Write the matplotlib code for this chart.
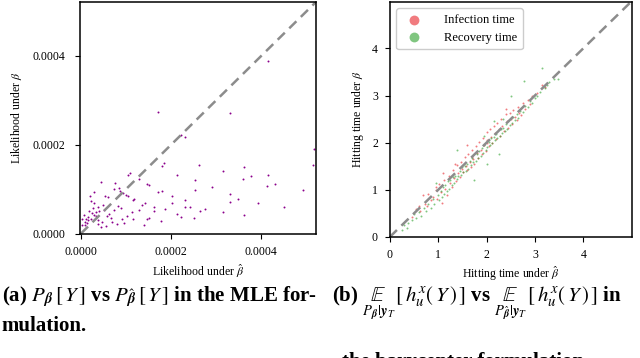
import numpy as np
import matplotlib
matplotlib.use("Agg")
import matplotlib.pyplot as plt

plt.rcParams['font.family'] = ['Liberation Serif', 'DejaVu Serif']
plt.rcParams['mathtext.fontset'] = 'stix'

# --- data: (a) likelihood under beta-hat vs beta ---
lik_hat = [0.000415, 0.000170, 0.000331, 0.000518, 0.000514, 0.000232, 0.000221, 0.000184,
           0.000179, 0.000263, 0.000315, 0.000362, 0.000415, 0.000377, 0.000360, 0.000431,
           0.000414, 0.000492, 0.000451, 0.000394, 0.000362, 0.000348, 0.000331, 0.000331,
           0.000315, 0.000290, 0.000276, 0.000265, 0.000253, 0.000253, 0.000252, 0.000241,
           0.000232, 0.000232, 0.000222, 0.000213, 0.000213, 0.000202, 0.000202, 0.000187,
           0.000179, 0.000172, 0.000178, 0.000163, 0.000163, 0.000151, 0.000147, 0.000150,
           0.000142, 0.000136, 0.000140, 0.000146, 0.000128, 0.000130, 0.000115, 0.000118,
           0.000108, 0.000105, 0.000113, 0.000102, 0.000115, 0.000100, 0.000104, 0.000093,
           0.000085, 0.000076, 0.000074, 0.000073, 0.000082, 0.000088, 0.000091, 0.000096,
           0.000079, 0.000068, 0.000059, 0.000060, 0.000048, 0.000053, 0.000045, 0.000046,
           0.000056, 0.000044, 0.000037, 0.000037, 0.000030, 0.000029, 0.000027, 0.000020,
           0.000022, 0.000025, 0.000023, 0.000018, 0.000016, 0.000012, 0.000013, 0.000006,
           0.000003, 0.000002, 0.000010, 0.000034, 0.000033, 0.000041, 0.000051, 0.000062,
           0.000008, 0.000015, 0.000028, 0.000039, 0.000066, 0.000086]
lik_true = [0.000389, 0.000273, 0.000272, 0.000190, 0.000154, 0.000218, 0.000221, 0.000160,
            0.000153, 0.000154, 0.000141, 0.000151, 0.000132, 0.000129, 0.000124, 0.000111,
            0.000108, 0.000098, 0.000060, 0.000070, 0.000042, 0.000079, 0.000089, 0.000072,
            0.000049, 0.000106, 0.000055, 0.000052, 0.000121, 0.000099, 0.000035, 0.000061,
            0.000075, 0.000061, 0.000038, 0.000133, 0.000044, 0.000085, 0.000070, 0.000055,
            0.000095, 0.000093, 0.000028, 0.000061, 0.000050, 0.000036, 0.000112, 0.000109,
            0.000068, 0.000065, 0.000019, 0.000032, 0.000053, 0.000124, 0.000075, 0.000078,
            0.000136, 0.000131, 0.000048, 0.000039, 0.000033, 0.000088, 0.000085, 0.000091,
            0.000103, 0.000113, 0.000101, 0.000054, 0.000062, 0.000058, 0.000033, 0.000023,
            0.000021, 0.000025, 0.000039, 0.000082, 0.000065, 0.000084, 0.000116, 0.000027,
            0.000017, 0.000015, 0.000031, 0.000021, 0.000094, 0.000068, 0.000058, 0.000084,
            0.000073, 0.000046, 0.000033, 0.000050, 0.000038, 0.000034, 0.000024, 0.000042,
            0.000032, 0.000019, 0.000019, 0.000048, 0.000040, 0.000050, 0.000054, 0.000045,
            0.000027, 0.000030, 0.000043, 0.000060, 0.000036, 0.000097]

# --- data: (b) hitting times ---
inf_hat = [0.45, 0.55, 0.62, 0.68, 0.72, 0.78, 0.80, 0.85, 0.90, 0.95, 0.98, 1.02, 1.05, 1.08,
           1.12, 1.15, 1.18, 1.22, 1.25, 1.28, 1.30, 1.33, 1.36, 1.40, 1.42, 1.45, 1.48, 1.50,
           1.52, 1.55, 1.58, 1.60, 1.62, 1.65, 1.68, 1.70, 1.72, 1.75, 1.78, 1.80, 1.82, 1.85,
           1.88, 1.90, 1.92, 1.95, 1.98, 2.00, 2.02, 2.05, 2.08, 2.10, 2.12, 2.15, 2.18, 2.20,
           2.22, 2.25, 2.28, 2.30, 2.33, 2.36, 2.40, 2.42, 2.45, 2.48, 2.50, 2.53, 2.55, 2.58,
           2.62, 2.65, 2.68, 2.72, 2.75, 2.80, 2.85, 2.90, 2.95, 3.05, 3.15, 3.20, 1.10, 1.60,
           1.35, 0.95, 2.40, 2.00, 1.70, 0.60]
inf_true = [0.42, 0.60, 0.55, 0.88, 0.70, 0.65, 0.92, 0.78, 0.85, 1.05, 0.80, 1.12, 0.95, 0.72,
            1.20, 1.02, 0.90, 1.30, 1.15, 1.05, 1.42, 1.25, 1.18, 1.52, 1.35, 1.28, 1.60, 1.45,
            1.38, 1.70, 1.50, 1.42, 1.75, 1.58, 1.48, 1.85, 1.65, 1.55, 1.92, 1.78, 1.68, 2.02,
            1.85, 1.75, 2.10, 1.95, 1.82, 2.22, 2.05, 1.92, 2.30, 2.12, 2.00, 2.35, 2.20, 2.08,
            2.42, 2.28, 2.15, 2.50, 2.35, 2.25, 2.60, 2.45, 2.32, 2.62, 2.50, 2.40, 2.70, 2.55,
            2.48, 2.75, 2.62, 2.58, 2.85, 2.72, 2.90, 2.82, 3.00, 3.05, 3.22, 3.18, 1.35, 1.95,
            1.55, 1.00, 2.72, 2.00, 1.70, 0.65]
rec_hat = [0.25, 0.30, 0.38, 0.45, 0.50, 0.55, 0.60, 0.65, 0.70, 0.75, 0.80, 0.85, 0.90, 0.92,
           0.95, 1.00, 1.02, 1.05, 1.08, 1.10, 1.12, 1.15, 1.18, 1.20, 1.22, 1.25, 1.28, 1.30,
           1.32, 1.35, 1.38, 1.40, 1.42, 1.45, 1.48, 1.50, 1.52, 1.55, 1.58, 1.60, 1.62, 1.65,
           1.68, 1.70, 1.72, 1.75, 1.78, 1.80, 1.82, 1.85, 1.88, 1.90, 1.92, 1.95, 1.98, 2.00,
           2.02, 2.05, 2.08, 2.10, 2.12, 2.15, 2.18, 2.20, 2.22, 2.25, 2.28, 2.30, 2.32, 2.35,
           2.38, 2.40, 2.42, 2.45, 2.48, 2.50, 2.52, 2.55, 2.58, 2.62, 2.65, 2.70, 2.75, 2.78,
           2.80, 2.85, 2.90, 2.95, 3.00, 3.05, 3.10, 3.15, 3.20, 3.25, 3.30, 3.40, 3.48, 1.95,
           2.15, 0.35, 2.35]
rec_true = [0.15, 0.25, 0.30, 0.35, 0.48, 0.40, 0.52, 0.45, 0.62, 0.55, 0.70, 0.62, 0.80, 0.70,
            1.15, 0.88, 0.78, 0.98, 0.85, 1.05, 0.92, 1.10, 0.98, 1.18, 1.02, 1.20, 1.10, 1.28,
            1.15, 1.30, 1.22, 1.85, 1.30, 1.40, 1.32, 1.48, 1.38, 1.50, 1.40, 1.55, 1.45, 1.62,
            1.52, 1.68, 1.58, 1.20, 1.62, 1.75, 1.68, 1.82, 1.72, 1.88, 1.78, 1.95, 1.85, 1.55,
            1.90, 2.02, 1.95, 2.10, 2.00, 2.12, 2.05, 2.18, 2.10, 1.75, 2.15, 2.28, 2.20, 2.32,
            2.25, 2.40, 2.30, 2.45, 2.38, 3.00, 2.42, 2.55, 2.48, 2.60, 2.52, 2.68, 2.65, 3.30,
            2.78, 2.75, 2.88, 2.85, 2.95, 3.00, 3.08, 3.58, 3.15, 3.22, 3.28, 3.35, 3.35, 2.15,
            2.45, 0.20, 2.50]

fig = plt.figure(figsize=(6.4, 3.58), dpi=100)
ax1 = fig.add_axes([0.125, 0.345, 0.369, 0.65])
ax2 = fig.add_axes([0.609, 0.338, 0.378, 0.656])

# (a)
lim_a = 0.000522
ax1.scatter(lik_hat, lik_true, s=2, color='#8b008b', linewidths=0)
ax1.plot([0, lim_a], [0, lim_a], '--', color='#8c8c8c', lw=1.8, dashes=(4, 2.5))
ax1.set_xlim(-0.000002, lim_a)
ax1.set_ylim(-0.000002, lim_a)
ax1.set_xticks([0, 0.0002, 0.0004])
ax1.set_yticks([0, 0.0002, 0.0004])
ax1.set_xticklabels(['0.0000', '0.0002', '0.0004'])
ax1.set_yticklabels(['0.0000', '0.0002', '0.0004'])
ax1.set_xlabel(r'Likelihood under $\hat{\beta}$', fontsize=8.5, labelpad=3)
ax1.set_ylabel(r'Likelihood under $\beta$', fontsize=8.5, labelpad=6)

# (b)
ax2.scatter(inf_hat, inf_true, s=2, color='#e8242a', alpha=0.6, linewidths=0, label='Infection time')
ax2.scatter(rec_hat, rec_true, s=2, color='#2ca02c', alpha=0.6, linewidths=0, label='Recovery time')
ax2.plot([0, 5], [0, 5], '--', color='#8c8c8c', lw=1.8, dashes=(4, 2.5))
ax2.set_xlim(0, 5)
ax2.set_ylim(0, 4.98)
ax2.set_xticks([0, 1, 2, 3, 4])
ax2.set_yticks([0, 1, 2, 3, 4])
ax2.set_xlabel(r'Hitting time under $\hat{\beta}$', fontsize=8.5, labelpad=3)
ax2.set_ylabel(r'Hitting time under $\beta$', fontsize=8.5)
leg = ax2.legend(loc='upper left', fontsize=9, markerscale=5, handletextpad=1.4,
                 borderpad=0.45, labelspacing=0.45, framealpha=1)
leg.get_frame().set_edgecolor('#cccccc')

for ax in (ax1, ax2):
    ax.tick_params(labelsize=8.5, length=3.5, width=0.8, pad=5, colors='black')
    for sp in ax.spines.values():
        sp.set_linewidth(1.1)
ax1.tick_params(axis='y', pad=7)

# captions
fs = 15
fig.text(0.003, 0.158,
         r'(a) $P_{\boldsymbol{\beta}}\,[\,Y\,]$ vs $P_{\hat{\boldsymbol{\beta}}}\,[\,Y\,]$ in the MLE for-',
         fontsize=fs, fontweight='bold', ha='left', va='baseline')
fig.text(0.003, 0.076, 'mulation.', fontsize=fs, fontweight='bold', ha='left', va='baseline')
fig.text(0.518, 0.158,
         r'(b) $\underset{P_{\boldsymbol{\beta}}|\boldsymbol{y}_T}{\;\mathbb{E}\;}\,[\,h_u^x(\,Y\,)\,]$ vs '
         r'$\underset{P_{\hat{\boldsymbol{\beta}}}|\boldsymbol{y}_T}{\;\mathbb{E}\;}\,[\,h_u^x(\,Y\,)\,]$ in',
         fontsize=fs, fontweight='bold', ha='left', va='baseline')
fig.text(0.535, -0.024, 'the barycenter formulation.', fontsize=fs, fontweight='bold',
         ha='left', va='baseline')

fig.savefig('out.png', dpi=100)
